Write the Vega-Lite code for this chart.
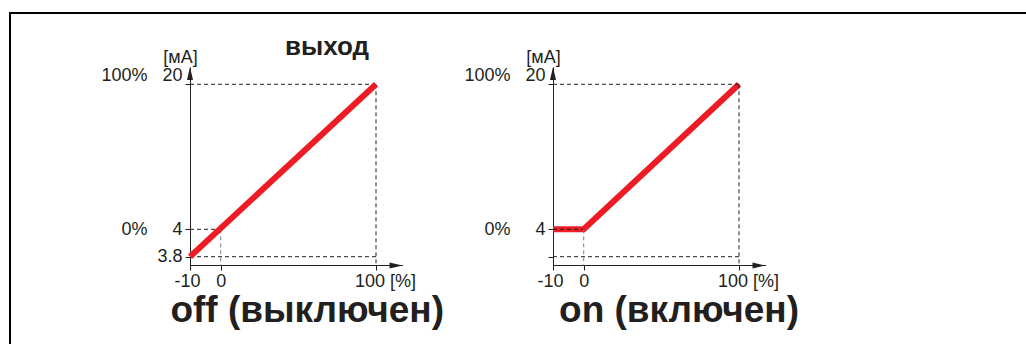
{
  "$schema": "https://vega.github.io/schema/vega-lite/v6.json",
  "autosize": "none",
  "padding": {"left": 10, "top": 13, "right": 0, "bottom": 0},
  "width": 1016,
  "height": 331,
  "background": "white",
  "title": {"text": "выход", "anchor": "start", "frame": "group", "offset": -71, "dx": 275, "baseline": "alphabetic", "font": "Liberation Sans", "fontSize": 26, "fontWeight": "bold", "color": "#231f20"},
  "config": {
    "view": {"stroke": null},
    "axis": {"labelFont": "Liberation Sans", "labelFontSize": 18, "labelColor": "#231f20", "titleFont": "Liberation Sans", "titleColor": "#231f20", "domainColor": "#231f20", "tickColor": "#231f20", "domainWidth": 1, "tickWidth": 1, "tickSize": 5, "grid": false, "labelOverlap": false, "labelFlush": false, "labelBound": false}
  },
  "datasets": {
    "off_curve": [{"x": -10, "y": 3.8}, {"x": 100, "y": 20}],
    "on_curve": [{"x": -10, "y": 4}, {"x": 0, "y": 4}, {"x": 100, "y": 20}],
    "guides": [
      {"x": -10, "y": 20, "x2": 100, "y2": 20},
      {"x": 100, "y": 20, "x2": 100, "y2": 3.7},
      {"x": -10, "y": 3.8, "x2": 100, "y2": 3.8},
      {"x": -10, "y": 4, "x2": 0, "y2": 4},
      {"x": 0, "y": 4, "x2": 0, "y2": 3.7}
    ],
    "arrows": [{"dir": "up", "x": -10, "y": 21.9}, {"dir": "right", "x": 117, "y": 3.7}]
  },
  "layer": [
    {
      "data": {"name": "arrows"},
      "mark": {"type": "point", "opacity": 0},
      "encoding": {
        "x": {"datum": 0, "type": "quantitative", "scale": {"domain": [0, 1], "range": [0, 1030], "zero": false, "nice": false},
          "axis": {"orient": "top", "offset": 0, "translate": 0, "domain": true, "domainWidth": 2, "domainColor": "#000000", "domainCap": "square", "ticks": false, "labels": false, "title": null}},
        "y": {"datum": 0, "type": "quantitative", "scale": {"domain": [0, 1], "range": [0, 345], "zero": false, "nice": false},
          "axis": {"orient": "left", "offset": 0, "translate": 0, "domain": true, "domainWidth": 2, "domainColor": "#000000", "domainCap": "square", "ticks": false, "labels": false, "title": null}}
      }
    },
    {
      "encoding": {
        "x": {"field": "x", "type": "quantitative",
          "scale": {"domain": [-10, 0, 100, 117], "range": [180, 210.7, 366, 392.5], "zero": false, "nice": false},
          "axis": {"orient": "bottom", "offset": -79, "values": [-10, 0, 100], "labelExpr": "datum.value == -10 ? '-10' : datum.value == 0 ? '0' : '100 [%]'", "labelOffset": {"condition": [{"test": "datum.value == 100", "value": 9}, {"test": "datum.value == -10", "value": -3}], "value": 0}, "labelPadding": 2, "title": "off (выключен)", "titleFontSize": 37, "titleFontWeight": "bold", "titleX": 296.7, "titleY": 56, "titleAlign": "center", "titleBaseline": "alphabetic"}},
        "y": {"field": "y", "type": "quantitative",
          "scale": {"domain": [3.7, 3.8, 4, 20, 21.9], "range": [252.5, 243.7, 216.3, 71.3, 54], "zero": false, "nice": false},
          "axis": {"orient": "left", "offset": -180, "values": [3.8, 4, 20], "labelExpr": "datum.value == 20 ? '100%\u00a0\u00a0\u00a020' : datum.value == 4 ? '0%\u00a0\u00a0\u00a0\u00a0\u00a04' : '3.8'", "labelOffset": {"condition": {"test": "datum.value == 20", "value": -9}, "value": 0}, "labelPadding": 3, "title": "[мА]", "titleFontSize": 18, "titleFontWeight": "normal", "titleAngle": 0, "titleAlign": "center", "titleBaseline": "alphabetic", "titleX": -10, "titleY": 49}}
      },
      "layer": [
        {"data": {"name": "guides"}, "transform": [{"filter": "datum.x != 0 || datum.x2 != 0"}], "mark": {"type": "rule", "color": "#231f20", "strokeWidth": 1, "strokeDash": [4, 3]}, "encoding": {"x2": {"field": "x2"}, "y2": {"field": "y2"}}},
        {"data": {"name": "guides"}, "transform": [{"filter": "datum.x == 0 && datum.x2 == 0"}], "mark": {"type": "rule", "color": "#808285", "strokeWidth": 1, "strokeDash": [4, 3]}, "encoding": {"x2": {"field": "x2"}, "y2": {"field": "y2"}}},
        {"data": {"name": "off_curve"}, "mark": {"type": "line", "color": "#ed1c24", "strokeWidth": 6, "strokeCap": "butt"}, "encoding": {}},
        {"data": {"name": "arrows"}, "mark": {"type": "point", "filled": true, "size": 100, "color": "#231f20", "opacity": 1, "strokeWidth": 0}, "encoding": {"shape": {"field": "dir", "type": "nominal", "scale": {"domain": ["right", "up"], "range": ["M0,0L-2.6,-0.6L-2.6,0.6Z", "M0,0L-0.6,2.6L0.6,2.6Z"]}, "legend": null}}}
      ]
    },
    {
      "encoding": {
        "x": {"field": "x", "type": "quantitative",
          "scale": {"domain": [-10, 0, 100, 117], "range": [543, 573.7, 729, 755.5], "zero": false, "nice": false},
          "axis": {"orient": "bottom", "offset": -79, "values": [-10, 0, 100], "labelExpr": "datum.value == -10 ? '-10' : datum.value == 0 ? '0' : '100 [%]'", "labelOffset": {"condition": [{"test": "datum.value == 100", "value": 9}, {"test": "datum.value == -10", "value": -3}], "value": 0}, "labelPadding": 2, "title": "on (включен)", "titleFontSize": 37, "titleFontWeight": "bold", "titleX": 668.5, "titleY": 56, "titleAlign": "center", "titleBaseline": "alphabetic"}},
        "y": {"field": "y", "type": "quantitative",
          "scale": {"domain": [3.7, 3.8, 4, 20, 21.9], "range": [252.5, 243.7, 216.3, 71.3, 54], "zero": false, "nice": false},
          "axis": {"orient": "left", "offset": -543, "values": [3.8, 4, 20], "labelExpr": "datum.value == 20 ? '100%\u00a0\u00a0\u00a020' : datum.value == 4 ? '0%\u00a0\u00a0\u00a0\u00a0\u00a04' : ''", "labelOffset": {"condition": {"test": "datum.value == 20", "value": -9}, "value": 0}, "labelPadding": 3, "title": "[мА]", "titleFontSize": 18, "titleFontWeight": "normal", "titleAngle": 0, "titleAlign": "center", "titleBaseline": "alphabetic", "titleX": -10, "titleY": 49}}
      },
      "layer": [
        {"data": {"name": "on_curve"}, "mark": {"type": "line", "color": "#ed1c24", "strokeWidth": 6, "strokeCap": "butt", "strokeJoin": "miter"}, "encoding": {}},
        {"data": {"name": "guides"}, "transform": [{"filter": "datum.x != 0 || datum.x2 != 0"}], "mark": {"type": "rule", "color": "#231f20", "strokeWidth": 1, "strokeDash": [4, 3]}, "encoding": {"x2": {"field": "x2"}, "y2": {"field": "y2"}}},
        {"data": {"name": "guides"}, "transform": [{"filter": "datum.x == 0 && datum.x2 == 0"}], "mark": {"type": "rule", "color": "#808285", "strokeWidth": 1, "strokeDash": [4, 3]}, "encoding": {"x2": {"field": "x2"}, "y2": {"field": "y2"}}},
        {"data": {"name": "arrows"}, "mark": {"type": "point", "filled": true, "size": 100, "color": "#231f20", "opacity": 1, "strokeWidth": 0}, "encoding": {"shape": {"field": "dir", "type": "nominal", "scale": {"domain": ["right", "up"], "range": ["M0,0L-2.6,-0.6L-2.6,0.6Z", "M0,0L-0.6,2.6L0.6,2.6Z"]}, "legend": null}}}
      ]
    }
  ],
  "resolve": {"scale": {"x": "independent", "y": "independent"}, "axis": {"x": "independent", "y": "independent"}}
}
